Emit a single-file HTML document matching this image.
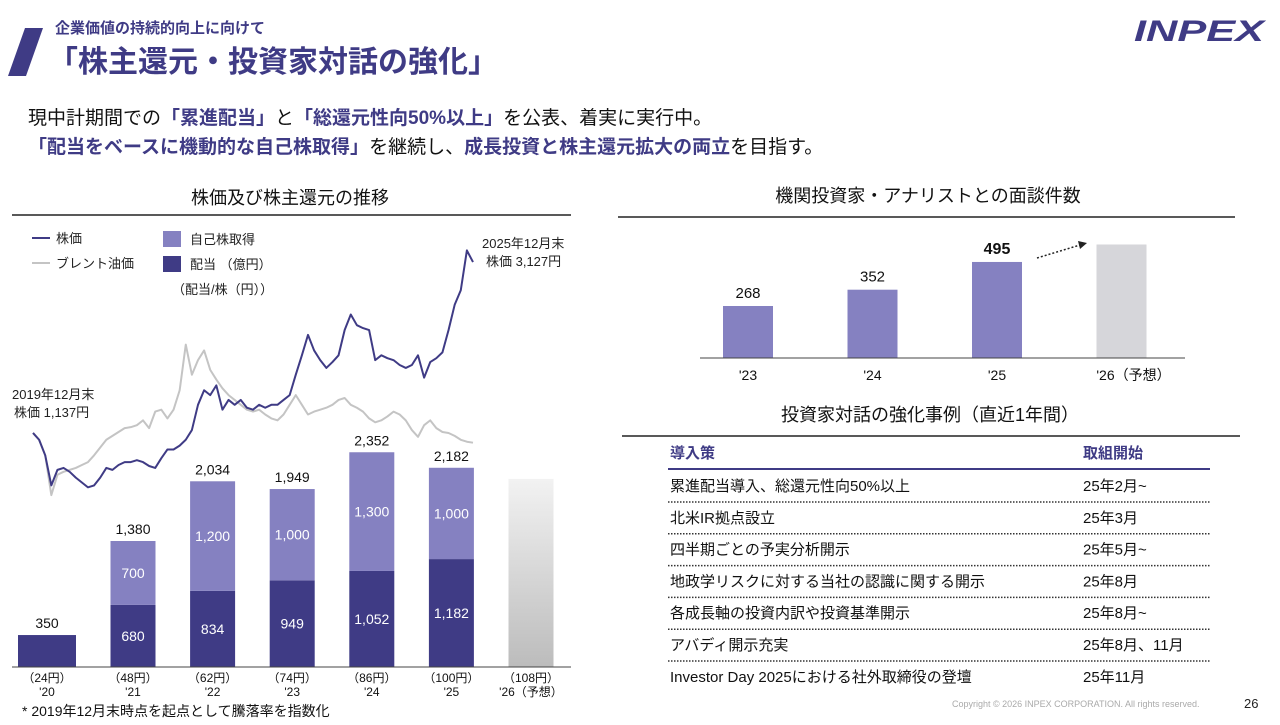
<!DOCTYPE html>
<html><head><meta charset="utf-8">
<style>
body{margin:0;width:1280px;height:720px;overflow:hidden;background:#fff;font-family:"Liberation Sans","Noto Sans CJK JP",sans-serif}
svg text{font-family:"Liberation Sans","Noto Sans CJK JP",sans-serif}
</style></head><body>
<svg id="pg" width="1280" height="720" viewBox="0 0 1280 720">
<g>
<polygon points="25,28 43,28 26,76 8,76" fill="#3f3b85"/>
<text x="55" y="33" font-size="15" fill="#3f3b85" font-weight="bold">企業価値の持続的向上に向けて</text>
<text x="48" y="72" font-size="30" fill="#3f3b85" font-weight="bold">「株主還元・投資家対話の強化」</text>
<text x="1134" y="41" font-size="30" fill="#3f3b85" font-weight="bold" font-style="italic" textLength="130" lengthAdjust="spacingAndGlyphs">INPEX</text>
</g>
<g font-size="19" fill="#111">
<text x="28" y="124">現中計期間での<tspan fill="#3f3b85" font-weight="bold">「累進配当」</tspan>と<tspan fill="#3f3b85" font-weight="bold">「総還元性向50%以上」</tspan>を公表、着実に実行中。</text>
<text x="28" y="153"><tspan fill="#3f3b85" font-weight="bold">「配当をベースに機動的な自己株取得」</tspan>を継続し、<tspan fill="#3f3b85" font-weight="bold">成長投資と株主還元拡大の両立</tspan>を目指す。</text>
</g>
<text x="290" y="204" text-anchor="middle" font-size="18" fill="#111">株価及び株主還元の推移</text>
<line x1="12" y1="215" x2="571" y2="215" stroke="#222" stroke-width="1.5"/>
<text x="928" y="202" text-anchor="middle" font-size="18" fill="#111">機関投資家・アナリストとの面談件数</text>
<line x1="618" y1="217" x2="1235" y2="217" stroke="#222" stroke-width="1.5"/>
<text x="930" y="421" text-anchor="middle" font-size="18" fill="#111">投資家対話の強化事例（直近1年間）</text>
<line x1="622" y1="436" x2="1240" y2="436" stroke="#222" stroke-width="1.5"/>

<g font-size="13" fill="#222">
<line x1="32" y1="238" x2="50" y2="238" stroke="#3f3b85" stroke-width="2"/>
<text x="56" y="243">株価</text>
<line x1="32" y1="263" x2="50" y2="263" stroke="#c4c4c4" stroke-width="2"/>
<text x="56" y="268">ブレント油価</text>
<rect x="163" y="231" width="18" height="16" fill="#8581c1"/>
<text x="190" y="244">自己株取得</text>
<rect x="163" y="256" width="18" height="16" fill="#3f3b85"/>
<text x="190" y="269">配当 （億円）</text>
<text x="172" y="294">（配当/株（円））</text>
</g>
<g font-size="13" fill="#222">
<text x="12" y="399">2019年12月末</text>
<text x="14" y="417">株価 1,137円</text>
<text x="482" y="248">2025年12月末</text>
<text x="486" y="266">株価 3,127円</text>
</g>
<defs><linearGradient id="gg" x1="0" y1="0" x2="0" y2="1"><stop offset="0" stop-color="#f2f2f2"/><stop offset="1" stop-color="#bcbcbc"/></linearGradient></defs>
<g id="left"></g>
<g id="right"></g>
<g id="tbl"></g>
<text x="22" y="716" font-size="14" fill="#111">* 2019年12月末時点を起点として騰落率を指数化</text>
<text x="952" y="707" font-size="9" fill="#aaa">Copyright © 2026 INPEX CORPORATION. All rights reserved.</text>
<text x="1244" y="708" font-size="13" fill="#222">26</text>
</svg>
<script>
const years=["'20","'21","'22","'23","'24","'25","'26（予想）"];
const dps=["（24円）","（48円）","（62円）","（74円）","（86円）","（100円）","（108円）"];
const dividend=[350,680,834,949,1052,1182,null];
const buyback=[0,700,1200,1000,1300,1000,null];
const forecastTotal=2060;
const stockIdx=[99,92,76,45,61,63,59,53,48,43,45,53,63,61,66,69,69,71,69,65,63,73,82,82,86,92,102,128,143,138,148,123,133,128,133,125,123,128,125,128,128,133,138,159,179,200,184,174,166,172,179,205,221,210,207,205,174,179,176,174,169,166,169,179,156,172,176,182,205,231,246,287,275];
const brentIdx=[99,92,76,35,56,59,61,63,66,69,76,84,92,96,100,104,105,107,112,104,121,123,114,123,143,190,159,174,184,164,154,145,138,133,128,123,121,123,118,114,112,118,128,138,128,118,121,123,125,128,133,135,128,125,121,114,110,112,116,121,118,112,102,95,107,112,104,100,99,96,92,90,89];
const meetCats=["'23","'24","'25","'26（予想）"];
const meetVals=[268,352,495,585];
const rows=[["累進配当導入、総還元性向50%以上","25年2月~"],["北米IR拠点設立","25年3月"],["四半期ごとの予実分析開示","25年5月~"],["地政学リスクに対する当社の認識に関する開示","25年8月"],["各成長軸の投資内訳や投資基準開示","25年8月~"],["アバディ開示充実","25年8月、11月"],["Investor Day 2025における社外取締役の登壇","25年11月"]];

const NS="http://www.w3.org/2000/svg";
function mk(p,t,a,txt){const e=document.createElementNS(NS,t);for(const k in a)e.setAttribute(k,a[k]);if(txt!=null)e.textContent=txt;p.appendChild(e);return e;}
const L=document.getElementById('left');
const base=667, k=126/1380;
const yv=v=>base-v*k;
const cx=i=>i===0?47:133+(i-1)*79.6;
const bw=i=>i===0?58:45;
for(let i=0;i<years.length;i++){
  const w=bw(i),x=cx(i)-w/2;
  if(dividend[i]==null){
    const r=mk(L,'rect',{x:x,y:yv(forecastTotal),width:w,height:base-yv(forecastTotal),fill:'url(#gg)'});
    
    
  } else {
    const r=mk(L,'rect',{x:x,y:yv(dividend[i]),width:w,height:base-yv(dividend[i]),fill:'#3f3b85'});
    
    
    const tot=dividend[i]+buyback[i];
    if(buyback[i]>0){
      const b=mk(L,'rect',{x:x,y:yv(tot),width:w,height:yv(dividend[i])-yv(tot),fill:'#8581c1'});
      
      
      const bl=mk(L,'text',{x:cx(i),y:(yv(tot)+yv(dividend[i]))/2+5,'text-anchor':'middle','font-size':14,fill:'#fff'},buyback[i].toLocaleString());
      
      
      const dl=mk(L,'text',{x:cx(i),y:(yv(dividend[i])+base)/2+5,'text-anchor':'middle','font-size':14,fill:'#fff'},dividend[i].toLocaleString());
      
      
    }
    const tl=mk(L,'text',{x:cx(i),y:yv(tot)-7,'text-anchor':'middle','font-size':14,fill:'#111'},tot.toLocaleString());
    
    
  }
  const d=mk(L,'text',{x:cx(i),y:682,'text-anchor':'middle','font-size':12,fill:'#111'},dps[i]);
  
  
  const yl=mk(L,'text',{x:cx(i),y:696,'text-anchor':'middle','font-size':12,fill:'#111'},years[i]);
  
  
}
const ax=mk(L,'line',{x1:12,y1:base,x2:571,y2:base,stroke:'#444','stroke-width':1});


const lx=m=>33+m*(440/72), ly=v=>432-(v-100)*0.971;
function line(arr,col,w,name){
  const p=mk(L,'polyline',{points:arr.map((v,m)=>lx(m)+','+ly(v)).join(' '),fill:'none',stroke:col,'stroke-width':w,'stroke-linejoin':'round'});
  
  
}
line(brentIdx,'#c4c4c4',2,'brent-line');
line(stockIdx,'#3f3b85',2,'stock-line');
const R=document.getElementById('right');
const rb=358,rk=52/268;
meetCats.forEach((c,i)=>{
  const x=723+i*124.5, w=50;
  const r=mk(R,'rect',{x:x,y:rb-meetVals[i]*rk,width:w,height:meetVals[i]*rk,fill:i===3?'#d6d6da':'#8581c1'});
  
  
  if(i<3){
    const t=mk(R,'text',{x:x+w/2,y:rb-meetVals[i]*rk-8,'text-anchor':'middle','font-size':i===2?16:15,'font-weight':i===2?'bold':'normal',fill:'#111'},meetVals[i]);
    
    
  }
  const cl=mk(R,'text',{x:x+w/2+(i===3?12:0),y:380,'text-anchor':'middle','font-size':14,fill:'#111'},c);
  
  
});
const ra=mk(R,'line',{x1:700,y1:rb,x2:1185,y2:rb,stroke:'#444','stroke-width':1});


const ar=mk(R,'line',{x1:1037,y1:258,x2:1080,y2:245,stroke:'#222','stroke-width':1.5,'stroke-dasharray':'2,2'});


const ah=mk(R,'polygon',{points:'1087,243 1078,241 1080,249',fill:'#222'});


const T=document.getElementById('tbl');
const h1=mk(T,'text',{x:670,y:458,'font-size':15,'font-weight':'bold',fill:'#3f3b85'},'導入策');


const h2=mk(T,'text',{x:1083,y:458,'font-size':15,'font-weight':'bold',fill:'#3f3b85'},'取組開始');


const hl=mk(T,'line',{x1:668,y1:469,x2:1210,y2:469,stroke:'#3f3b85','stroke-width':2});


rows.forEach((r,i)=>{
  const y=491+i*31.8;
  const a=mk(T,'text',{x:670,y:y,'font-size':15,fill:'#111'},r[0]);
  
  
  const b=mk(T,'text',{x:1083,y:y,'font-size':15,fill:'#111'},r[1]);
  
  
  if(i<rows.length-1){
    const s=mk(T,'line',{x1:668,y1:y+11,x2:1210,y2:y+11,stroke:'#333','stroke-width':1.5,'stroke-dasharray':'1.5,1.5'});
    
    
  }
});
</script>
</body></html>
